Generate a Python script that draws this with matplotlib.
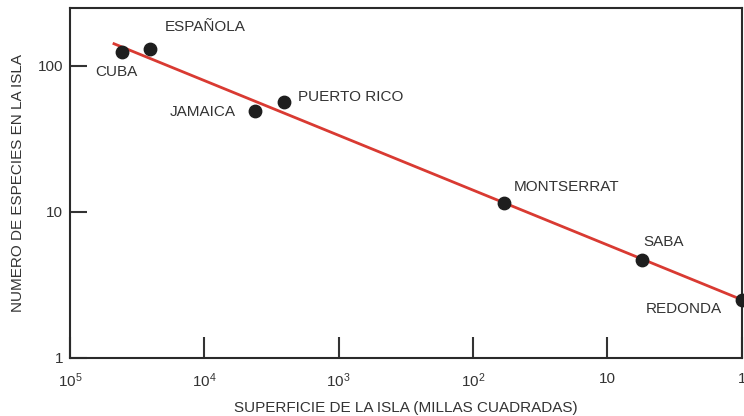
import numpy as np
import matplotlib.pyplot as plt

plt.rcParams['font.family'] = ['Liberation Sans', 'DejaVu Sans']
plt.rcParams['mathtext.fontset'] = 'custom'
plt.rcParams['mathtext.rm'] = 'Liberation Sans'
plt.rcParams['mathtext.it'] = 'Liberation Sans'

# Islas: superficie (millas cuadradas) y número de especies
islas = ['CUBA', 'ESPAÑOLA', 'JAMAICA', 'PUERTO RICO', 'MONTSERRAT', 'SABA', 'REDONDA']
superficie = [41000, 25500, 4200, 2550, 59, 5.5, 1.0]
especies = [125, 131, 49, 57, 11.5, 4.7, 2.5]

# Recta de ajuste (extremos)
ajuste_sup = [47000, 1.0]
ajuste_esp = [142, 2.5]

xticks = [1e5, 1e4, 1e3, 1e2, 10, 1]
xticklabels = [r'$10^5$', r'$10^4$', r'$10^3$', r'$10^2$', '10', '1']
yticks = [1, 10, 100]
yticklabels = ['1', '10', '100']

# desplazamiento de cada rótulo (px) y alineación
offsets = [(-27, -20, 'left'), (15, 22, 'left'), (-19, -1, 'right'),
           (14, 5, 'left'), (10, 16, 'left'), (1, 18, 'left'), (-20, -9, 'right')]

txt = '#333333'
fig = plt.figure(figsize=(7.44, 4.16), dpi=100)
ax = fig.add_axes([0.094, 0.140, 0.903, 0.841])

ax.plot(ajuste_sup, ajuste_esp, color='#d93a32', lw=2, zorder=2)
ax.scatter(superficie, especies, s=80, color='#1e1e1e', zorder=3, clip_on=False)

for nombre, x, y, (dx, dy, ha) in zip(islas, superficie, especies, offsets):
    ax.annotate(nombre, (x, y), xytext=(dx, dy), textcoords='offset pixels',
                ha=ha, va='center', fontsize=11, color=txt)

ax.set_xscale('log')
ax.set_yscale('log')
ax.set_xlim(1e5, 1)
ax.set_ylim(1, 250)

ax.set_xticks(xticks)
ax.set_xticklabels(xticklabels)
ax.set_yticks(yticks)
ax.set_yticklabels(yticklabels)
ax.minorticks_off()
ax.tick_params(axis='x', direction='in', length=15, width=1.5, pad=10,
               labelsize=11, colors=txt)
ax.tick_params(axis='y', direction='in', length=12, width=1.5, pad=5,
               labelsize=11, colors=txt)

for s in ax.spines.values():
    s.set_linewidth(1.5)
    s.set_color('#2a2a2a')

ax.set_xlabel('SUPERFICIE DE LA ISLA (MILLAS CUADRADAS)', fontsize=11,
              color=txt, labelpad=8)
ax.set_ylabel('NUMERO DE ESPECIES EN LA ISLA', fontsize=11, color=txt, labelpad=9)

fig.savefig('out.png', dpi=100)
